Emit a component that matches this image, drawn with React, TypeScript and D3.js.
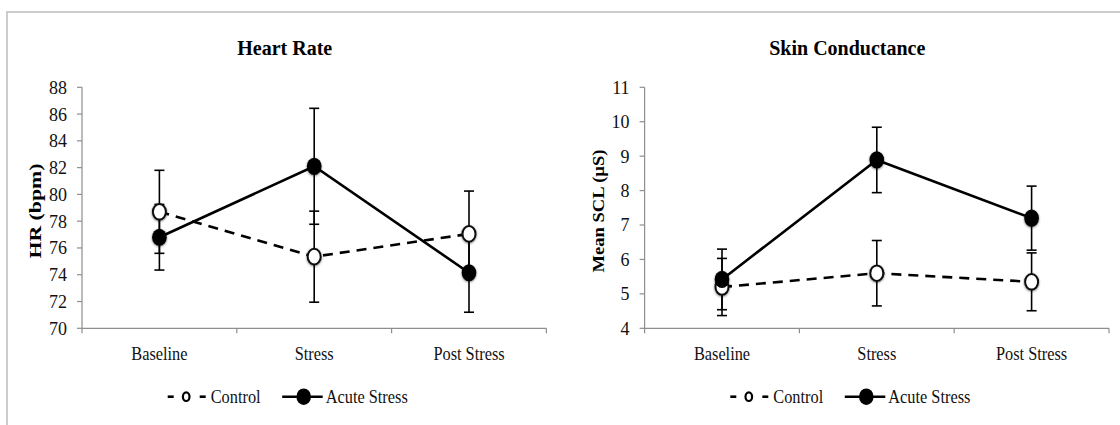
import React from 'react';
import * as d3 from 'd3';

// ---------- data ----------
const categories = ['Baseline', 'Stress', 'Post Stress'];
const seriesNames = ['Control', 'Acute Stress'];

const hrTitle = 'Heart Rate';
const hrAxisLabel = 'HR (bpm)';
const hrTicks = [70, 72, 74, 76, 78, 80, 82, 84, 86, 88];
const hrControl = [78.7, 75.35, 77.05];
const hrControlErr = [3.1, 3.4, 3.2];
const hrAcute = [76.8, 82.1, 74.15];
const hrAcuteErr = [2.45, 4.33, 2.95];

const sclTitle = 'Skin Conductance';
const sclAxisLabel = 'Mean SCL (µS)';
const sclTicks = [4, 5, 6, 7, 8, 9, 10, 11];
const sclControl = [5.2, 5.6, 5.35];
const sclControlErr = [0.83, 0.95, 0.84];
const sclAcute = [5.42, 8.89, 7.2];
const sclAcuteErr = [0.88, 0.95, 0.93];

// ---------- layout ----------
const W = 1120;
const H = 425;
const X0 = 82;
const X1 = 546.4;
const Y_TOP = 87.3;
const Y_BOT = 328.3;
const AXIS = '#8e8e8e';
const SERIF = '"Liberation Serif", "Times New Roman", serif';
const NARROW = 0.86;

type PanelProps = {
  dx: number;
  title: string;
  axisLabel: string;
  labelLen: number;
  ticks: number[];
  control: number[];
  controlErr: number[];
  acute: number[];
  acuteErr: number[];
};

function Panel({ dx, title, axisLabel, labelLen, ticks, control, controlErr, acute, acuteErr }: PanelProps) {
  const x = d3.scaleBand<string>().domain(categories).range([X0, X1]).padding(0);
  const y = d3.scaleLinear().domain([ticks[0], ticks[ticks.length - 1]]).range([Y_BOT, Y_TOP]);
  const bw = x.bandwidth();
  const cx = (c: string) => (x(c) as number) + bw / 2;
  const line = d3
    .line<number>()
    .x((_, i) => cx(categories[i]))
    .y((d) => y(d));
  const titleX = (X0 + X1) / 2 - 29.5;
  const legY = 396.7;
  const capW = 5;

  const errBars = (vals: number[], errs: number[], key: string) =>
    vals.map((v, i) => {
      const px = cx(categories[i]);
      const yHi = y(v + errs[i]);
      const yLo = y(v - errs[i]);
      return (
        <g key={key + i} stroke="#000" strokeWidth={1.6}>
          <line x1={px} x2={px} y1={yHi} y2={yLo} />
          <line x1={px - capW} x2={px + capW} y1={yHi} y2={yHi} />
          <line x1={px - capW} x2={px + capW} y1={yLo} y2={yLo} />
        </g>
      );
    });

  return (
    <g transform={`translate(${dx},0)`}>
      {/* title */}
      <text x={titleX} y={55} textAnchor="middle" fontFamily={SERIF} fontWeight="bold" fontSize={20}>
        {title}
      </text>
      {/* y label */}
      <text
        transform={`translate(41,${211}) rotate(-90)`}
        textAnchor="middle"
        fontFamily={SERIF}
        fontWeight="bold"
        fontSize={16}
        textLength={labelLen}
        lengthAdjust="spacingAndGlyphs"
      >
        {axisLabel}
      </text>
      {/* axes */}
      <g stroke={AXIS} strokeWidth={1.2} fill="none">
        <line x1={X0} x2={X0} y1={Y_TOP} y2={Y_BOT + 5} />
        <line x1={X0} x2={X1} y1={Y_BOT} y2={Y_BOT} />
        {ticks.map((t) => (
          <line key={'yt' + t} x1={X0 - 5} x2={X0} y1={y(t)} y2={y(t)} />
        ))}
        {categories.map((c) => (
          <line key={'xt' + c} x1={(x(c) as number) + bw} x2={(x(c) as number) + bw} y1={Y_BOT} y2={Y_BOT + 5} />
        ))}
      </g>
      {ticks.map((t) => (
        <text key={'yl' + t} x={X0 - 15} y={y(t)} dy="0.36em" textAnchor="end" fontFamily={SERIF} fontSize={18} fill="#111">
          {t}
        </text>
      ))}
      {categories.map((c) => (
        <text
          key={'xl' + c}
          transform={`translate(${cx(c)},360) scale(${NARROW},1)`}
          textAnchor="middle"
          fontFamily={SERIF}
          fontSize={19}
          fill="#111"
        >
          {c}
        </text>
      ))}
      {/* error bars */}
      {errBars(control, controlErr, 'ce')}
      {errBars(acute, acuteErr, 'ae')}
      {/* lines */}
      <path d={line(control) || ''} fill="none" stroke="#000" strokeWidth={2.6} strokeDasharray="10 7" />
      <path d={line(acute) || ''} fill="none" stroke="#000" strokeWidth={2.6} />
      {/* markers */}
      <g filter="url(#glow)">
        {control.map((v, i) => (
          <ellipse key={'cm' + i} cx={cx(categories[i])} cy={y(v)} rx={6.5} ry={7.8} fill="#fff" stroke="#111" strokeWidth={2} />
        ))}
        {acute.map((v, i) => (
          <ellipse key={'am' + i} cx={cx(categories[i])} cy={y(v)} rx={7.3} ry={8.6} fill="#000" />
        ))}
      </g>
      {/* legend */}
      <g>
        <line x1={titleX - 117} x2={titleX - 111} y1={legY} y2={legY} stroke="#000" strokeWidth={2.6} />
        <line x1={titleX - 85} x2={titleX - 79} y1={legY} y2={legY} stroke="#000" strokeWidth={2.6} />
        <ellipse cx={titleX - 98.5} cy={legY} rx={3.3} ry={4.3} fill="#fff" stroke="#000" strokeWidth={2.2} />
        <text
          transform={`translate(${titleX - 74},403) scale(${NARROW},1)`}
          fontFamily={SERIF}
          fontSize={19}
          fill="#111"
        >
          {seriesNames[0]}
        </text>
        <line x1={titleX - 2.5} x2={titleX + 38} y1={legY} y2={legY} stroke="#000" strokeWidth={2.6} />
        <ellipse cx={titleX + 19} cy={legY} rx={7.3} ry={8.3} fill="#000" />
        <text
          transform={`translate(${titleX + 41},403) scale(${NARROW},1)`}
          fontFamily={SERIF}
          fontSize={19}
          fill="#111"
        >
          {seriesNames[1]}
        </text>
      </g>
    </g>
  );
}

export default function App() {
  return (
    <svg
      width={W}
      height={H}
      viewBox={`0 0 ${W} ${H}`}
      style={{ position: 'absolute', left: 0, top: 0, background: '#fff' }}
    >
      <defs>
        <filter id="glow" x="-50%" y="-50%" width="200%" height="200%">
          <feDropShadow dx={0} dy={0.8} stdDeviation={1.3} floodColor="#000" floodOpacity={0.55} />
        </filter>
      </defs>
      <rect x={0} y={0} width={W} height={H} fill="#fff" />
      {/* frame */}
      <line x1={6} x2={W} y1={12} y2={12} stroke="#cccccc" strokeWidth={2} />
      <line x1={7} x2={7} y1={11} y2={H} stroke="#cccccc" strokeWidth={2} />
      <Panel
        dx={0}
        title={hrTitle}
        axisLabel={hrAxisLabel}
        labelLen={95}
        ticks={hrTicks}
        control={hrControl}
        controlErr={hrControlErr}
        acute={hrAcute}
        acuteErr={hrAcuteErr}
      />
      <Panel
        dx={562.6}
        title={sclTitle}
        axisLabel={sclAxisLabel}
        labelLen={123}
        ticks={sclTicks}
        control={sclControl}
        controlErr={sclControlErr}
        acute={sclAcute}
        acuteErr={sclAcuteErr}
      />
    </svg>
  );
}
